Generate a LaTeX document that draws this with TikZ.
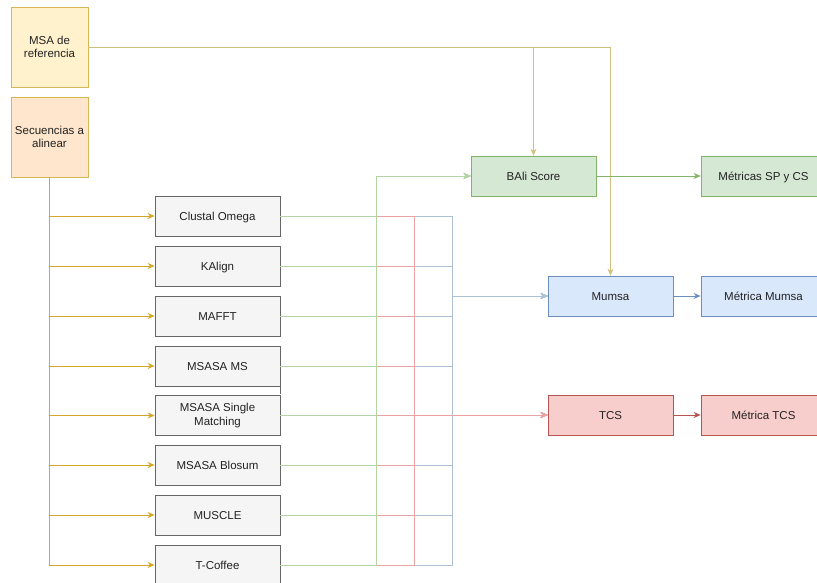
\documentclass[tikz,border=0pt]{standalone}
\usepackage{fontspec}
\setmainfont{Liberation Sans}
\usetikzlibrary{arrows.meta}
\definecolor{refFill}{HTML}{FFF2CC}
\definecolor{refDraw}{HTML}{D6B656}
\definecolor{seqFill}{HTML}{FFE6CC}
\definecolor{seqDraw}{HTML}{D6B656}
\definecolor{toolFill}{HTML}{F5F5F5}
\definecolor{toolDraw}{HTML}{666666}
\definecolor{txt}{HTML}{222222}
\definecolor{gFill}{HTML}{D5E8D4}
\definecolor{gDraw}{HTML}{82B366}
\definecolor{bFill}{HTML}{DAE8FC}
\definecolor{bDraw}{HTML}{6C8EBF}
\definecolor{rFill}{HTML}{F8CECC}
\definecolor{rDraw}{HTML}{B85450}
\definecolor{seqLine}{HTML}{D4A62A}
\definecolor{refLine}{HTML}{D2BF7E}
\definecolor{gLine}{HTML}{B4D4A4}
\definecolor{rLine}{HTML}{E8A4A4}
\definecolor{bLine}{HTML}{AEC0D6}
\begin{document}
\begin{tikzpicture}[x=1pt,y=-1pt,
  box/.style={rectangle, draw, line width=0.8pt, minimum width=125pt, minimum height=40pt,
    inner sep=2pt, text height=8.3pt, text depth=0pt, text=txt, font=\fontsize{11.5}{13.5}\selectfont},
  twoline/.style={align=center, text height=, text depth=},
  tool/.style={box, fill=toolFill, draw=toolDraw},
  src/.style={box, twoline, minimum width=77pt, minimum height=80pt},
  tip/.style={-{Stealth[length=7pt,width=6pt]}},
  seqedge/.style={tip, draw=seqLine, line width=1pt},
  refedge/.style={tip, draw=refLine, line width=0.9pt},
  gedge/.style={tip, draw=gLine, line width=0.8pt},
  redge/.style={tip, draw=rLine, line width=0.8pt},
  bedge/.style={tip, draw=bLine, line width=0.8pt}]
\useasboundingbox (0,0) rectangle (817,582);
\clip (0,0) rectangle (817,582);

% sources
\node[src, fill=refFill, draw=refDraw] (ref) at (49.5,47) {MSA de\\referencia};
\node[src, fill=seqFill, draw=seqDraw] (seq) at (49.5,137) {Secuencias a\\alinear};

% tools
\node[tool] (t1) at (217.5,216) {Clustal Omega};
\node[tool] (t2) at (217.5,266) {KAlign};
\node[tool] (t3) at (217.5,316) {MAFFT};
\node[tool] (t4) at (217.5,366) {MSASA MS};
\node[tool, twoline] (t5) at (217.5,415.5) {MSASA Single\\Matching};
\node[tool] (t6) at (217.5,465) {MSASA Blosum};
\node[tool] (t7) at (217.5,515) {MUSCLE};
\node[tool] (t8) at (217.5,565) {T-Coffee};
\draw[toolDraw, line width=0.8pt] (t4.south east) -- ++(0,8);

% evaluators
\node[box, fill=gFill, draw=gDraw] (bali) at (533.5,176) {BAli Score};
\node[box, fill=gFill, draw=gDraw] (msp) at (763.5,176) {Métricas SP y CS};
\node[box, fill=bFill, draw=bDraw] (mumsa) at (610.5,296) {Mumsa};
\node[box, fill=bFill, draw=bDraw] (mmu) at (763.5,296) {Métrica Mumsa};
\node[box, fill=rFill, draw=rDraw] (tcs) at (610.5,415) {TCS};
\node[box, fill=rFill, draw=rDraw] (mtcs) at (763.5,415) {Métrica TCS};

\coordinate (gx) at (376,0);
\coordinate (rx) at (414,0);
\coordinate (bx) at (452,0);

% tool outputs
\foreach \t in {t1,t2,t3,t4,t5,t6,t7,t8}{
  \draw[bedge] (\t.east) -- (\t.east -| bx) |- (mumsa.west);
}
\foreach \t in {t1,t2,t3,t4,t5,t6,t7,t8}{
  \draw[redge] (\t.east) -- (\t.east -| rx) |- (tcs.west);
}
\foreach \t in {t1,t2,t3,t4,t5,t6,t7,t8}{
  \draw[gedge] (\t.east) -- (\t.east -| gx) |- (bali.west);
}

% inputs
\foreach \t in {t1,t2,t3,t4,t5,t6,t7,t8}{
  \draw[seqedge] (seq.south) |- (\t.west);
}

% reference MSA
\draw[refedge] (ref.east) -| (mumsa.north);
\draw[refedge] (ref.east) -| (bali.north);

% metrics
\draw[tip, draw=gDraw, line width=0.8pt] (bali.east) -- (msp.west);
\draw[tip, draw=bDraw, line width=0.8pt] (mumsa.east) -- (mmu.west);
\draw[tip, draw=rDraw, line width=0.8pt] (tcs.east) -- (mtcs.west);
\end{tikzpicture}
\end{document}
